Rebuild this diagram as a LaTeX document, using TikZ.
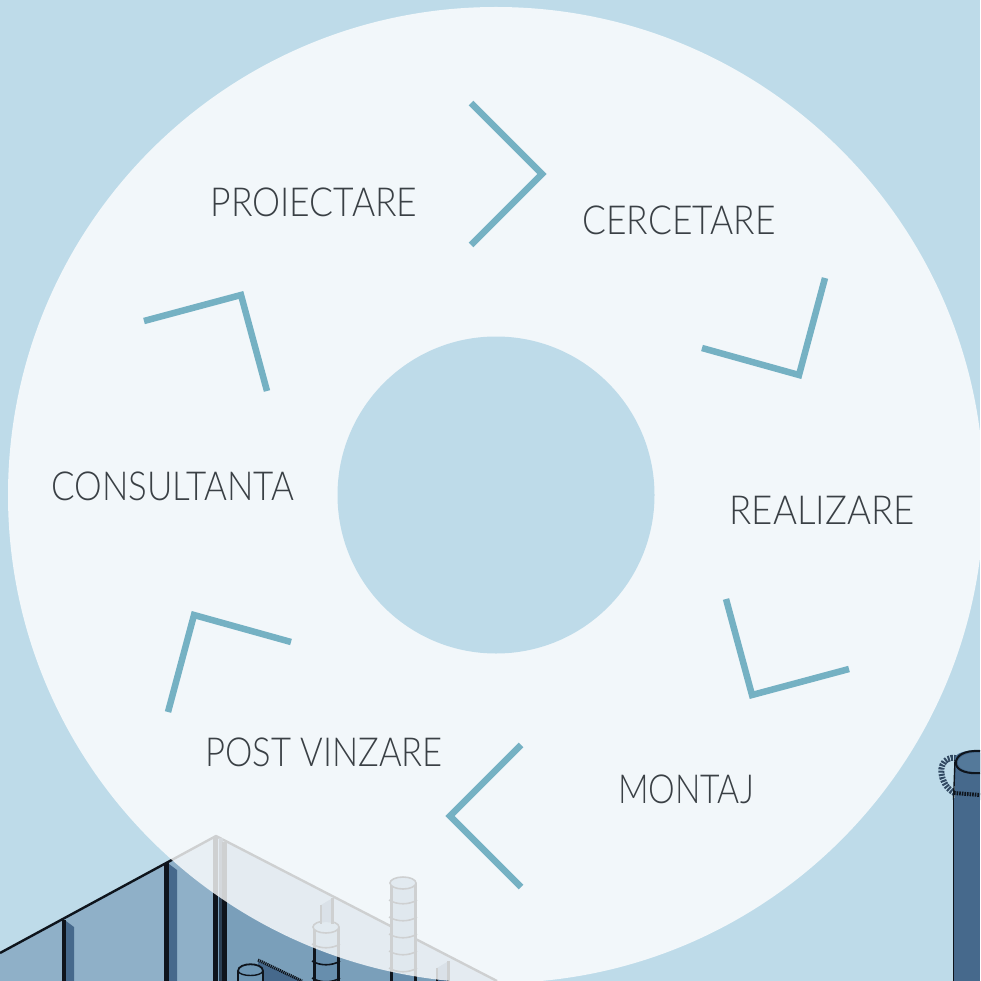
\documentclass[tikz,border=0pt]{standalone}
\usepackage{fontspec}
\setmainfont{Lato}[UprightFont=* Light]
\definecolor{bgblue}{HTML}{BEDBE9}
\definecolor{teal1}{HTML}{75B1C3}
\definecolor{ink}{HTML}{3A4045}
\definecolor{panelA}{HTML}{8FB0C8}
\definecolor{panelB}{HTML}{7A9FBA}
\definecolor{steel}{HTML}{46698C}
\definecolor{steellt}{HTML}{6F97B5}
\definecolor{steeld}{HTML}{0E141C}
\newcommand{\squeezed}[2]{\scalebox{#1}[1]{#2}}
\tikzset{
 chev/.style={draw=teal1,line width=6.5pt,miter limit=10},
 lab/.style={text=ink,font=\fontsize{40}{40}\selectfont,inner sep=0pt,anchor=center},
 ink1/.style={draw=steeld,line width=1.5pt}
}
\begin{document}
\begin{tikzpicture}[x=1pt,y=-1pt]
\useasboundingbox (0,0) rectangle (980,981);
\fill[bgblue] (0,0) rectangle (980,981);
% building walls
\fill[panelA] (0,953) -- (216,836) -- (216,981) -- (0,981) -- cycle;
\fill[panelB] (216,836) -- (497,981) -- (216,981) -- cycle;
\draw[steeld,line width=2.4pt,line join=round] (0,953) -- (216,836) -- (497,981);
% wall posts on the left
\fill[steel] (66,921) -- (74,927) -- (74,981) -- (66,981) -- cycle;
\draw[steeld,line width=4pt] (63.5,920) -- (63.5,981);
\fill[steel] (169,864) -- (177,870) -- (177,981) -- (169,981) -- cycle;
\draw[steeld,line width=5pt] (166.5,863) -- (166.5,981);
% corner post
\fill[steel!60!black] (219,838) rectangle (223,981);
\draw[steeld,line width=5.5pt] (215.5,837) -- (215.5,981);
\draw[steeld,line width=5pt] (224.5,842) -- (224.5,981);
% ringed columns
\foreach \x/\t in {326/927,403/883}{
  \fill[steellt!80!steel] (\x-13,\t) rectangle (\x+13,981);
  \draw[steeld,line width=3pt] (\x-12,\t) -- (\x-12,981);
  \draw[steeld,line width=3pt] (\x+12,\t) -- (\x+12,981);
  \draw[steeld,line width=1.6pt,fill=steellt] (\x,\t) ellipse (13 and 6);
  \foreach \d in {17,34,51,68,85}{
    \draw[steeld,line width=1.6pt] (\x-14,\t+\d) .. controls (\x-6,\t+\d+5) and (\x+6,\t+\d+5) .. (\x+14,\t+\d);
  }
}
% stubs
\fill[steel] (321,905) -- (331,899) -- (331,922) -- (321,922) -- cycle;
\draw[steeld,line width=2.2pt] (321,905) -- (321,924);
\draw[steeld,line width=3.4pt] (332.5,898) -- (332.5,924);
\fill[steel] (437,968) -- (447,962) -- (447,981) -- (437,981) -- cycle;
\draw[steeld,line width=2.2pt] (437,968) -- (437,981);
\draw[steeld,line width=3.4pt] (448.5,961) -- (448.5,981);
% low beam and small cylinder
\fill[steel] (258,961) -- (302,981) -- (258,981) -- cycle;
\draw[steeld,line width=3pt,dash pattern=on 1.2pt off 0.8pt] (258,960) -- (302,981);
\draw[steeld,line width=1.8pt,fill=steellt] (238,981) -- (238,971) .. controls (238,962) and (263,962) .. (263,971) -- (263,981);
\draw[steeld,line width=1.4pt] (238,971) .. controls (240,977) and (261,977) .. (263,971);
% big column on the right
\draw[steel!70!black,line width=6pt,dash pattern=on 2pt off 1.2pt] (956,758) .. controls (942,756) and (938,770) .. (944,782) .. controls (948,791) and (958,797) .. (975,799);
\fill[steel] (955,757) .. controls (958,752) and (968,750) .. (980,750) -- (980,800) -- (955,800) -- cycle;
\fill[steellt!35!steel] (980,753) .. controls (966,752) and (957,757) .. (958,764) .. controls (959,769) and (968,772) .. (980,772) -- cycle;
\draw[steeld,line width=2pt] (980,751) .. controls (964,750) and (955,756) .. (956,764) .. controls (957,771) and (968,774) .. (980,773);
\draw[steeld,line width=1.4pt] (955,760) -- (953.5,800);
\fill[steel] (954,798) rectangle (980,981);
\draw[steeld,line width=1.6pt] (953.5,798) -- (953.5,981);
\draw[steeld,line width=4pt,dash pattern=on 1.6pt off 1pt] (954,793) -- (980,795);
% translucent disc and hub
\fill[white,opacity=0.8] (496,495) circle (488);
\fill[bgblue] (496,495) circle (158.5);
% chevrons
\draw[chev] (471,103) -- (542,174) -- (471,245);
\draw[chev] (825,278) -- (799,375) -- (702,348);
\draw[chev] (726,599) -- (752,695) -- (849,669);
\draw[chev] (521,745) -- (450,816) -- (521,887);
\draw[chev] (291,642) -- (194,615) -- (168,712);
\draw[chev] (267,391) -- (241,295) -- (144,321);
% labels
\node[lab] (pro) at (314,202) {\squeezed{.886}{PROIECTARE}};
\node[lab] (cer) at (679,220) {\squeezed{.884}{CERCETARE}};
\node[lab] (rea) at (822,510) {\squeezed{.915}{REALIZARE}};
\node[lab] (mon) at (686,789) {\squeezed{.842}{MONTAJ}};
\node[lab] (pos) at (324,752) {\squeezed{.864}{POST VINZARE}};
\node[lab] (con) at (173,486) {\squeezed{.873}{CONSULTANTA}};
\end{tikzpicture}
\end{document}
